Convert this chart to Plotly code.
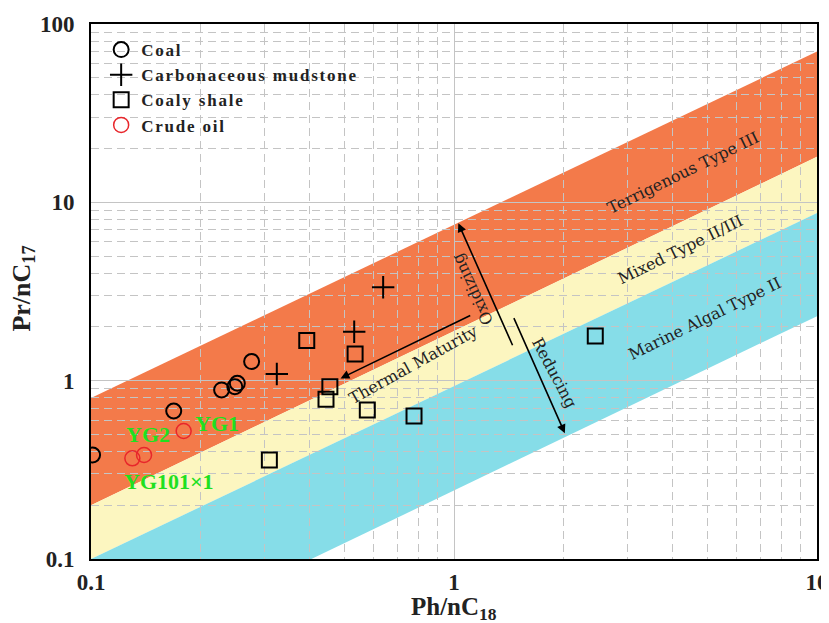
import numpy as np
import plotly.graph_objects as go

# ---------------- data ----------------
coal_x = [0.101, 0.169, 0.229, 0.249, 0.253, 0.277]
coal_y = [0.383, 0.676, 0.887, 0.925, 0.967, 1.28]

mud_x = [0.325, 0.531, 0.638]
mud_y = [1.09, 1.88, 3.34]

shale_x = [0.310, 0.393, 0.444, 0.455, 0.534, 0.577, 0.776, 2.45]
shale_y = [0.359, 1.68, 0.787, 0.925, 1.41, 0.685, 0.634, 1.78]

oil_x = [0.130, 0.140, 0.180]
oil_y = [0.367, 0.383, 0.522]

oil_labels = ["YG2", "YG1", "YG101×1"]
oil_label_x = [0.144, 0.222, 0.164]
oil_label_y = [0.498, 0.572, 0.271]

# band boundaries (value at x=0.1 and x=10)
band_x = [0.1, 10]
edge_terr_top = [0.8, 70]
edge_terr_mixed = [0.2, 18]
edge_mixed_marine = [0.1, 8.7]
edge_marine_bottom = [0.0255, 2.3]

band_names = ["Terrigenous Type III", "Mixed Type II/III", "Marine Algal Type II"]
band_label_x = [4.28, 4.21, 4.91]
band_label_y = [14.7, 5.41, 2.24]

arrow_names = ["Oxidizing", "Reducing", "Thermal Maturity"]
arrow_tail_x = [1.456, 1.456, 1.119]
arrow_tail_y = [1.55, 2.285, 2.34]
arrow_head_x = [1.028, 2.02, 0.487]
arrow_head_y = [7.63, 0.507, 1.03]
arrow_label_x = [1.125, 1.887, 0.773]
arrow_label_y = [3.27, 1.11, 1.237]
arrow_label_angle = [-115, 62, -29]

x_ticks = [0.1, 1, 10]
x_ticktext = ["0.1", "1", "10"]
y_ticks = [0.1, 1, 10, 100]
y_ticktext = ["0.1", "1", "10", "100"]

# ---------------- styling ----------------
ORANGE = "#F37A4A"
YELLOW = "#FCF6C0"
BLUE = "#86DDE8"
BOLD_SERIF = "Liberation Serif"
LABEL_SERIF = "DejaVu Serif"
TXT = "#222222"

fig = go.Figure()


def band_path(upper, lower):
    return (f"M{band_x[0]},{upper[0]} L{band_x[1]},{upper[1]} "
            f"L{band_x[1]},{lower[1]} L{band_x[0]},{lower[0]} Z")


for up, lo, col in [(edge_terr_top, edge_terr_mixed, ORANGE),
                    (edge_terr_mixed, edge_mixed_marine, YELLOW),
                    (edge_mixed_marine, edge_marine_bottom, BLUE)]:
    fig.add_shape(type="path", path=band_path(up, lo), xref="x", yref="y",
                  fillcolor=col, line=dict(width=0), layer="below")


def spaced(name):
    return f'<b><span style="letter-spacing:1.8px">{name}</span></b>'


fig.add_trace(go.Scatter(x=coal_x, y=coal_y, mode="markers", name=spaced("Coal"),
                         marker=dict(symbol="circle-open", size=15, color="black",
                                     line=dict(width=2, color="black"))))
fig.add_trace(go.Scatter(x=mud_x, y=mud_y, mode="markers",
                         name=spaced("Carbonaceous mudstone"),
                         marker=dict(symbol="cross-thin-open", size=16, color="black",
                                     line=dict(width=2, color="black"))))
fig.add_trace(go.Scatter(x=shale_x, y=shale_y, mode="markers", name=spaced("Coaly shale"),
                         marker=dict(symbol="square-open", size=15, color="black",
                                     line=dict(width=2, color="black"))))
fig.add_trace(go.Scatter(x=oil_x, y=oil_y, mode="markers", name=spaced("Crude oil"),
                         marker=dict(symbol="circle-open", size=15, color="#E8262B",
                                     line=dict(width=1.5, color="#E8262B"))))

# crude oil labels
for t, lx, ly in zip(oil_labels, oil_label_x, oil_label_y):
    fig.add_annotation(x=np.log10(lx), y=np.log10(ly), xref="x", yref="y",
                       text=f"<b>{t}</b>", showarrow=False,
                       font=dict(family=BOLD_SERIF, size=22, color="#1FE01F"))

# band labels
for t, lx, ly in zip(band_names, band_label_x, band_label_y):
    fig.add_annotation(x=np.log10(lx), y=np.log10(ly), xref="x", yref="y", text=t,
                       showarrow=False, textangle=-26,
                       font=dict(family=LABEL_SERIF, size=16, color=TXT))

# arrows
for tx, ty, hx, hy in zip(arrow_tail_x, arrow_tail_y, arrow_head_x, arrow_head_y):
    fig.add_annotation(x=np.log10(hx), y=np.log10(hy), ax=np.log10(tx), ay=np.log10(ty),
                       xref="x", yref="y", axref="x", ayref="y", text="",
                       showarrow=True, arrowhead=2, arrowsize=1.1, arrowwidth=1.6,
                       arrowcolor="black", standoff=0, startstandoff=0)

for t, lx, ly, ang in zip(arrow_names, arrow_label_x, arrow_label_y, arrow_label_angle):
    fig.add_annotation(x=np.log10(lx), y=np.log10(ly), xref="x", yref="y", text=t,
                       showarrow=False, textangle=ang,
                       font=dict(family=LABEL_SERIF, size=16, color=TXT))

# axis titles
fig.add_annotation(x=0.5, y=-0.092, xref="paper", yref="paper",
                   text="<b>Ph/nC<sub>18</sub></b>", showarrow=False, yanchor="middle",
                   font=dict(family=BOLD_SERIF, size=25, color=TXT))
fig.add_annotation(x=-0.094, y=0.505, xref="paper", yref="paper",
                   text="<b>Pr/nC<sub>17</sub></b>", showarrow=False, textangle=-90,
                   xanchor="center", yanchor="middle",
                   font=dict(family=BOLD_SERIF, size=26, color=TXT))

grid_major = "#C4C4C4"
grid_minor = "#C4C4C4"

axis_common = dict(
    type="log", showline=True, linecolor="black", linewidth=2, mirror=True,
    ticks="", showgrid=True, gridcolor=grid_major, gridwidth=1, zeroline=False,
    tickmode="array", automargin=False,
    tickfont=dict(family=BOLD_SERIF, size=23, color=TXT, weight="bold"),
    minor=dict(dtick="D1", showgrid=True, gridcolor=grid_minor, gridwidth=1,
               griddash="8px,5px", ticks=""),
)

fig.update_xaxes(**axis_common, range=[-1, 1], tickvals=x_ticks, ticktext=x_ticktext,
                 ticklabelstandoff=1)
fig.update_yaxes(**axis_common, range=[-1, 2], tickvals=y_ticks, ticktext=y_ticktext,
                 ticklabelstandoff=10)

# the page places the figure 8px from the window's top-left corner
fig.update_layout(
    width=821, height=615,
    margin=dict(l=83, r=12, t=16, b=64),
    plot_bgcolor="white", paper_bgcolor="white",
    showlegend=True,
    legend=dict(x=0.014, y=0.985, xanchor="left", yanchor="top",
                bgcolor="rgba(0,0,0,0)", tracegroupgap=0,
                font=dict(family=BOLD_SERIF, size=17, color=TXT, weight="bold")),
)

fig.write_html("out.html")
